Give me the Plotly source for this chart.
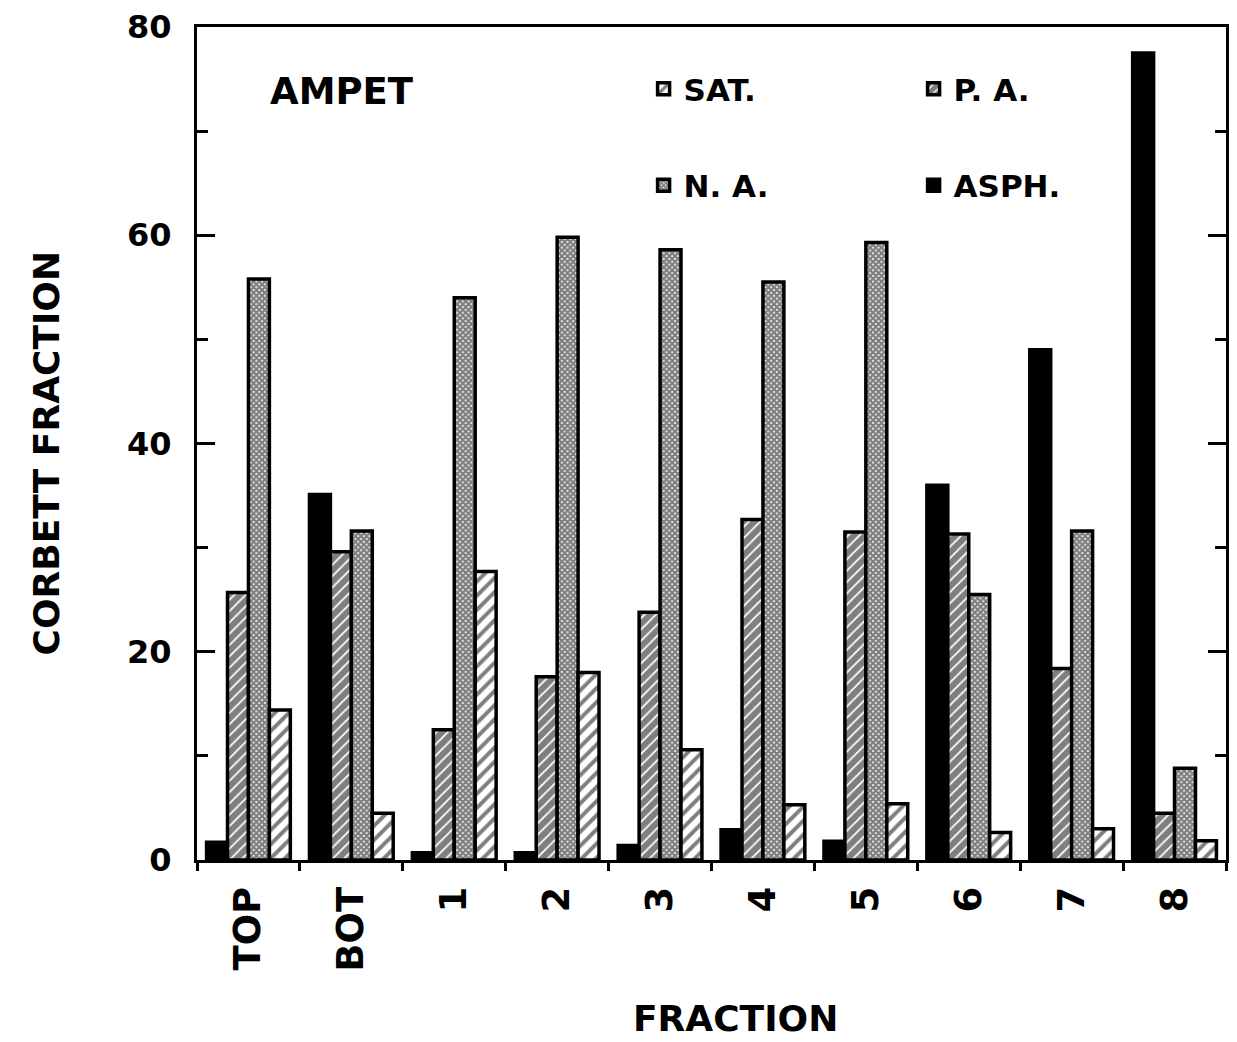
import plotly.graph_objects as go

categories = ["TOP", "BOT", "1", "2", "3", "4", "5", "6", "7", "8"]
asph = [1.7, 35.1, 0.7, 0.7, 1.4, 2.9, 1.8, 36.0, 49.0, 77.5]
pa = [25.7, 29.6, 12.5, 17.6, 23.8, 32.7, 31.5, 31.3, 18.4, 4.5]
na = [55.8, 31.6, 54.0, 59.8, 58.6, 55.5, 59.3, 25.5, 31.6, 8.8]
sat = [14.4, 4.5, 27.7, 18.0, 10.6, 5.3, 5.4, 2.65, 3.0, 1.85]

y_tickvals = [0, 20, 40, 60, 80]
y_ticktext = ["0", "20", "40", "60", "80"]

FONT = "DejaVu Sans"
line = dict(color="black", width=3.5)

fig = go.Figure()
fig.add_trace(go.Bar(x=categories, y=asph, name="ASPH.", legend="legend2", legendrank=2,
                     marker=dict(color="black", line=line)))
fig.add_trace(go.Bar(x=categories, y=pa, name="P. A.", legend="legend", legendrank=2,
                     marker=dict(color="white", line=line,
                                 pattern=dict(shape="/", fgcolor="black", bgcolor="white",
                                              size=8, solidity=0.78))))
fig.add_trace(go.Bar(x=categories, y=na, name="N. A.", legend="legend2", legendrank=1,
                     marker=dict(color="white", line=line,
                                 pattern=dict(shape="x", fgcolor="black", bgcolor="white",
                                              size=4, solidity=0.8))))
fig.add_trace(go.Bar(x=categories, y=sat, name="SAT.", legend="legend", legendrank=1,
                     marker=dict(color="white", line=line,
                                 pattern=dict(shape="/", fgcolor="black", bgcolor="white",
                                              size=10, solidity=0.4))))

legend_common = dict(orientation="h", xref="paper", yref="paper", xanchor="left", yanchor="top",
                     entrywidth=225, entrywidthmode="pixels", itemwidth=30,
                     font=dict(family=FONT, size=31, color="black", weight="bold"),
                     bgcolor="rgba(0,0,0,0)", borderwidth=0, traceorder="normal")

fig.update_layout(
    width=1237, height=1042,
    margin=dict(l=197, r=8, t=26, b=182),
    paper_bgcolor="white", plot_bgcolor="white",
    barmode="group", bargap=0.186, bargroupgap=0,
    font=dict(family=FONT, color="black", weight="bold"),
    legend=dict(x=0.434, y=0.958, **legend_common),
    legend2=dict(x=0.434, y=0.842, **legend_common),
    xaxis=dict(
        type="category", showline=True, linecolor="black", linewidth=3, mirror=True,
        ticks="outside", tickson="boundaries", ticklen=8, tickwidth=3, tickcolor="black",
        tickangle=-90, ticklabelstandoff=9,
        tickfont=dict(family=FONT, size=37, color="black", weight="bold"),
        showgrid=False, zeroline=False,
    ),
    yaxis=dict(
        range=[0, 80], showline=True, linecolor="black", linewidth=3, mirror="allticks",
        ticks="inside", ticklen=18, tickwidth=3, tickcolor="black",
        tickvals=y_tickvals, ticktext=y_ticktext, ticklabelstandoff=16,
        tickfont=dict(family=FONT, size=32, color="black", weight="bold"),
        minor=dict(ticks="inside", ticklen=11, tickwidth=3, tickcolor="black", dtick=10,
                   showgrid=False),
        showgrid=False, zeroline=False,
    ),
    annotations=[
        dict(text="AMPET", xref="paper", yref="paper", x=0.0688, y=0.923,
             xanchor="left", yanchor="middle", showarrow=False,
             font=dict(family=FONT, size=37, color="black", weight="bold")),
        dict(text="FRACTION", xref="paper", yref="paper", x=0.523, y=-0.19,
             xanchor="center", yanchor="middle", showarrow=False,
             font=dict(family=FONT, size=36, color="black", weight="bold")),
        dict(text="CORBETT FRACTION", xref="paper", yref="paper", x=-0.146, y=0.489,
             xanchor="center", yanchor="middle", showarrow=False, textangle=-90,
             font=dict(family=FONT, size=36, color="black", weight="bold")),
    ],
)

fig.write_html("out.html", config={"displayModeBar": False},
               post_script="document.body.style.margin='0';")
